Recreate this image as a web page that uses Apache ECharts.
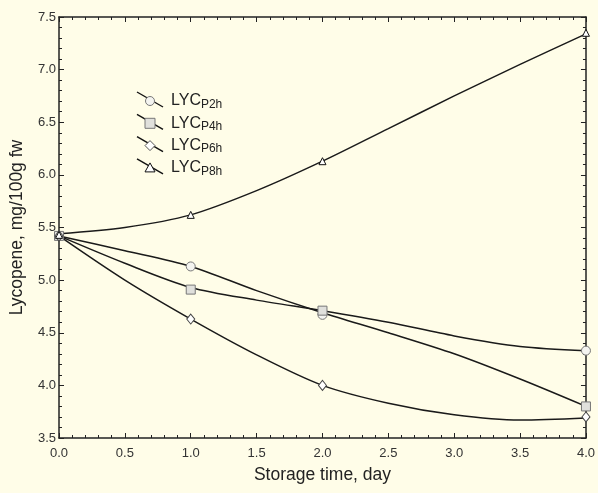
<!DOCTYPE html>
<html>
<head>
<meta charset="utf-8">
<script src="https://cdn.jsdelivr.net/npm/echarts@6/dist/echarts.min.js"></script>
<style>
html,body{margin:0;padding:0;background:#FFFDE8;}
#chart{width:598px;height:493px;}
</style>
</head>
<body>
<div id="chart"></div>
<script>
// Measured points
var days = [0, 1, 2, 4];
var lycP2h = [5.42, 5.13, 4.67, 4.33];
var lycP4h = [5.42, 4.91, 4.71, 3.80];
var lycP6h = [5.42, 4.63, 4.00, 3.70];
var lycP8h = [5.43, 5.62, 6.13, 7.35];

// Fitted curves
var fitDays = [0, 0.5, 1, 1.5, 2, 2.5, 3, 3.5, 4];
var fitA = [5.42, 5.28, 5.13, 4.90, 4.69, 4.50, 4.30, 4.06, 3.80];
var fitB = [5.42, 5.16, 4.93, 4.81, 4.71, 4.60, 4.47, 4.37, 4.33];
var fitC = [5.42, 5.00, 4.63, 4.29, 4.00, 3.83, 3.72, 3.67, 3.69];
var fitD = [5.44, 5.50, 5.62, 5.85, 6.13, 6.44, 6.75, 7.05, 7.34];

var legendNames = ['P2h', 'P4h', 'P6h', 'P8h'];
var xTicks = {min: 0, max: 4, interval: 0.5};
var yTicks = {min: 3.5, max: 7.5, interval: 0.5};

function pairs(xs, ys) { return xs.map(function (x, i) { return [x, ys[i]]; }); }

var axisCol = '#222';
var font = 'Liberation Sans, Arial, sans-serif';

function xAx(pos, showLabel) {
  return {
    type: 'value', position: pos, min: xTicks.min, max: xTicks.max, interval: xTicks.interval,
    axisLine: {show: true, onZero: false, lineStyle: {color: axisCol, width: 1.5}},
    axisTick: {show: true, inside: true, length: 5, lineStyle: {color: axisCol, width: 1}},
    minorTick: {show: true, splitNumber: 5, length: 3, lineStyle: {color: axisCol, width: 1}},
    splitLine: {show: false},
    axisLabel: {show: showLabel, color: '#333', fontSize: 13, fontFamily: font, margin: 9,
      formatter: function (v) { return v.toFixed(1); }},
    name: showLabel ? 'Storage time, day' : '', nameLocation: 'middle', nameGap: 28,
    nameTextStyle: {color: '#222', fontSize: 17.5, fontFamily: font}
  };
}
function yAx(pos, showLabel) {
  return {
    type: 'value', position: pos, min: yTicks.min, max: yTicks.max, interval: yTicks.interval,
    axisLine: {show: true, onZero: false, lineStyle: {color: axisCol, width: 1.5}},
    axisTick: {show: true, inside: true, length: 5, lineStyle: {color: axisCol, width: 1}},
    minorTick: {show: true, splitNumber: 5, length: 3, lineStyle: {color: axisCol, width: 1}},
    splitLine: {show: false},
    axisLabel: {show: showLabel, color: '#333', fontSize: 13, fontFamily: font, margin: 3,
      formatter: function (v) { return v.toFixed(1); }},
    name: showLabel ? 'Lycopene, mg/100g fw' : '', nameLocation: 'middle', nameGap: 33,
    nameRotate: 90,
    nameTextStyle: {color: '#222', fontSize: 17.5, fontFamily: font}
  };
}

function curve(data) {
  return {type: 'line', xAxisIndex: 0, yAxisIndex: 0, data: pairs(fitDays, data), smooth: 0.3,
    symbol: 'none', lineStyle: {color: '#1a1a1a', width: 1.5}, silent: true, z: 2};
}
function marks(data, sym, size, fill, border) {
  return {type: 'scatter', xAxisIndex: 0, yAxisIndex: 0, data: pairs(days, data), symbol: sym,
    symbolSize: size, itemStyle: {color: fill, borderColor: border, borderWidth: 1, opacity: 1}, z: 5};
}

// legend drawn as graphic: diagonal line + symbol + rich text
var legendSyms = [
  {shape: 'circle', fill: '#f4f4f0', stroke: '#777'},
  {shape: 'rect', fill: '#e0e0dc', stroke: '#777'},
  {shape: 'diamond', fill: '#fff', stroke: '#555'},
  {shape: 'triangle', fill: '#fff', stroke: '#111'}
];
var graphics = [];
legendNames.forEach(function (nm, i) {
  var y = 101 + i * 22.3;
  graphics.push({type: 'line', shape: {x1: 137, y1: y - 9, x2: 163, y2: y + 6},
    style: {stroke: '#111', lineWidth: 1.4}, z: 10});
  var s = legendSyms[i];
  var el;
  if (s.shape === 'circle') el = {type: 'circle', shape: {cx: 150, cy: y, r: 4.5}};
  else if (s.shape === 'rect') el = {type: 'rect', shape: {x: 145, y: y - 5, width: 10, height: 10}};
  else if (s.shape === 'diamond') el = {type: 'polygon', shape: {points: [[150, y - 5], [155, y], [150, y + 5], [145, y]]}};
  else el = {type: 'polygon', shape: {points: [[150, y - 5], [155, y + 4], [145, y + 4]]}};
  el.style = {fill: s.fill, stroke: s.stroke, lineWidth: 1};
  el.z = 11;
  graphics.push(el);
  graphics.push({type: 'text', x: 171, y: y, z: 11, style: {
    text: '{a|LYC}{b|' + nm + '}', verticalAlign: 'middle',
    rich: {a: {fontSize: 16, fontFamily: font, fill: '#222'},
           b: {fontSize: 12, fontFamily: font, fill: '#222', padding: [7, 0, 0, 0]}}
  }});
});

var chart = echarts.init(document.getElementById('chart'), null, {renderer: 'canvas'});
chart.setOption({
  backgroundColor: '#FFFDE8',
  animation: false,
  grid: {left: 58, right: 11, top: 17, bottom: 55, containLabel: false},
  xAxis: [xAx('bottom', true), xAx('top', false)],
  yAxis: [yAx('left', true), yAx('right', false)],
  graphic: graphics,
  series: [
    curve(fitA), curve(fitB), curve(fitC), curve(fitD),
    marks(lycP2h, 'circle', 9, '#f4f4f0', '#777'),
    marks(lycP4h, 'rect', 9, '#e0e0dc', '#777'),
    marks(lycP6h, 'diamond', [8, 10], '#fff', '#444'),
    marks(lycP8h, 'triangle', 7, '#fff', '#111')
  ]
});
</script>
</body>
</html>
